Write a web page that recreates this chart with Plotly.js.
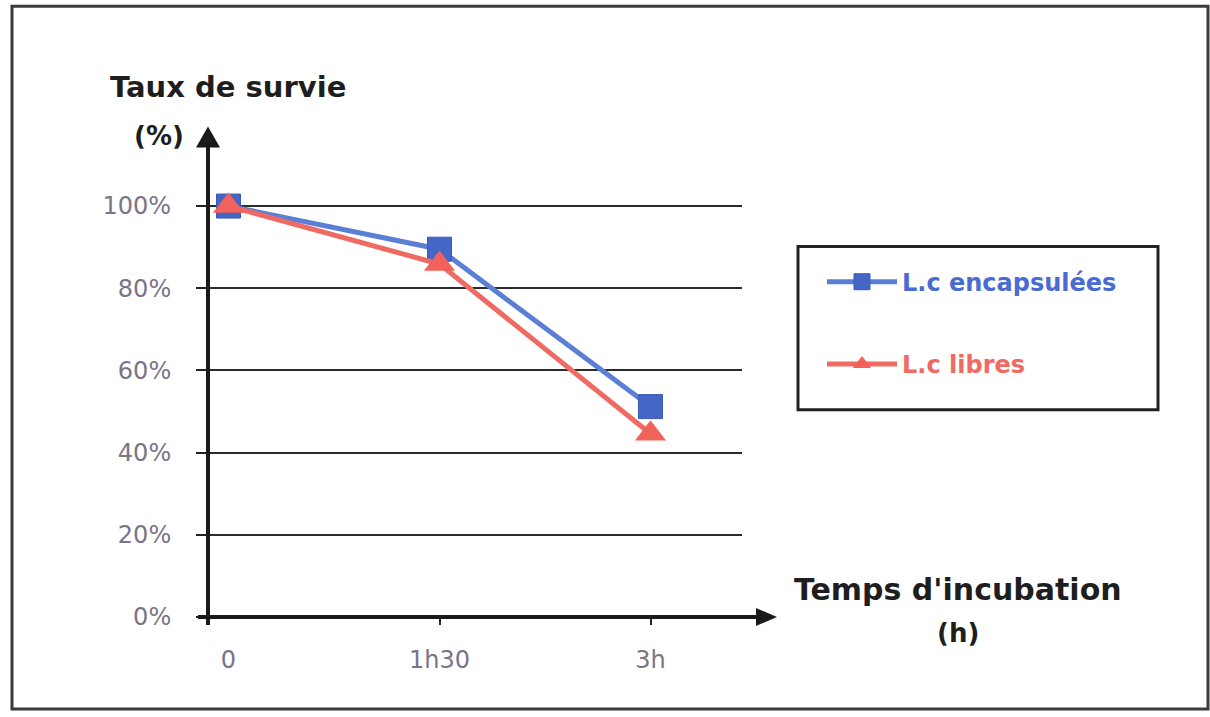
<!DOCTYPE html>
<html>
<head>
<meta charset="utf-8">
<script src="https://cdn.plot.ly/plotly-3.0.1.min.js"></script>
<style>html,body{margin:0;padding:0;background:#fff;}#chart{width:1210px;height:717px;}</style>
</head>
<body>
<div id="chart"></div>
<script>
// ---- Data ----
const times = ['0', '1h30', '3h'];
const encapsulees = [100, 89.5, 51.2];   // L.c encapsulées (%)
const libres = [100, 85.9, 44.6];        // L.c libres (%)
const yTickVals = [0, 20, 40, 60, 80, 100];
const yTickText = ['0%', '20%', '40%', '60%', '80%', '100%'];
const seriesNames = ['L.c encapsulées', 'L.c libres'];

// ---- Layout helpers (pixel -> paper) ----
const W = 1210, H = 717;
const Y0PX = 617, Y100PX = 206.5, YMAX = 100.5;
const L = 208, R = 742, B = Y0PX;
const T = B - (B - Y100PX) * YMAX / 100;
const px = v => (v - L) / (R - L);
const py = v => (B - v) / (B - T);

const xIdx = times.map((t, i) => i);

const traces = [
  {
    x: xIdx, y: encapsulees, name: seriesNames[0], type: 'scatter', mode: 'lines+markers',
    legendgroup: 'a',
    line: {color: '#5c7fd6', width: 5},
    marker: {symbol: 'square', size: 24, color: '#4466c4', line: {color: '#3a5ab5', width: 1}},
    cliponaxis: false
  },
  {
    x: xIdx, y: libres, name: seriesNames[1], type: 'scatter', mode: 'lines+markers',
    legendgroup: 'b',
    line: {color: '#ee6a62', width: 5},
    marker: {symbol: 'triangle-up', size: 27, color: '#f0625a', line: {width: 0}},
    cliponaxis: false
  },
  {
    x: [], y: [], xaxis: 'x2', yaxis: 'y', showlegend: false, type: 'scatter', hoverinfo: 'skip'
  }
];

const titleFont = {family: 'DejaVu Sans', size: 29, color: '#1e1e1e', weight: 'bold'};

const layout = {
  width: W, height: H,
  margin: {l: L, r: W - R, t: T, b: H - B, pad: 0},
  paper_bgcolor: '#ffffff', plot_bgcolor: '#ffffff',
  showlegend: true,
  legend: {
    x: px(822), y: py(260), xanchor: 'left', yanchor: 'top',
    bgcolor: 'rgba(0,0,0,0)', borderwidth: 0,
    font: {family: 'DejaVu Sans', size: 24, weight: 'bold', color: '#4a6cd0'},
    traceorder: 'grouped', tracegroupgap: 48, itemwidth: 70
  },
  xaxis: {
    range: [(L - 228.5) / 211, (R - 228.5) / 211],
    tickvals: xIdx, ticktext: times,
    ticks: '', showgrid: false, zeroline: false, showline: false,
    tickfont: {family: 'DejaVu Sans', size: 24, color: '#7a7488'},
    ticklabelstandoff: 26, fixedrange: true
  },
  xaxis2: {
    overlaying: 'x', matches: 'x', side: 'bottom',
    tickvals: xIdx.slice(1), showticklabels: false,
    ticks: 'outside', ticklen: 7, tickwidth: 2, tickcolor: '#222',
    showgrid: false, zeroline: false, showline: false
  },
  yaxis: {
    range: [0, YMAX],
    tickvals: yTickVals, ticktext: yTickText,
    ticks: 'outside', ticklen: 11, tickwidth: 2, tickcolor: '#222',
    showgrid: true, gridcolor: '#2b2b2b', gridwidth: 2,
    zeroline: false, showline: false,
    tickfont: {family: 'DejaVu Sans', size: 24, color: '#7a7488'},
    ticklabelstandoff: 20, fixedrange: true
  },
  shapes: [
    // outer frame
    {type: 'rect', xref: 'paper', yref: 'paper', x0: px(12), x1: px(1208), y0: py(709), y1: py(7),
     line: {color: '#3a3a3a', width: 3}, layer: 'below'},
    // legend box
    {type: 'rect', xref: 'paper', yref: 'paper', x0: px(798), x1: px(1158), y0: py(410), y1: py(247),
     line: {color: '#222', width: 3}},
    // y axis line + arrow
    {type: 'line', xref: 'paper', yref: 'paper', x0: px(208), x1: px(208), y0: py(625), y1: py(140),
     line: {color: '#1a1a1a', width: 4}},
    {type: 'path', xref: 'paper', yref: 'paper',
     path: `M ${px(208)} ${py(127)} L ${px(196)} ${py(148)} L ${px(220)} ${py(148)} Z`,
     fillcolor: '#1a1a1a', line: {width: 0}},
    // x axis line + arrow
    {type: 'line', xref: 'paper', yref: 'paper', x0: px(198), x1: px(762), y0: py(617), y1: py(617),
     line: {color: '#1a1a1a', width: 4}},
    {type: 'path', xref: 'paper', yref: 'paper',
     path: `M ${px(777)} ${py(617)} L ${px(756)} ${py(608)} L ${px(756)} ${py(626)} Z`,
     fillcolor: '#1a1a1a', line: {width: 0}}
  ],
  annotations: [
    {text: 'Taux de survie', xref: 'paper', yref: 'paper', x: px(228), y: py(88),
     xanchor: 'center', yanchor: 'middle', showarrow: false, font: titleFont},
    {text: '(%)', xref: 'paper', yref: 'paper', x: px(159), y: py(137),
     xanchor: 'center', yanchor: 'middle', showarrow: false, font: Object.assign({}, titleFont, {size: 26})},
    {text: "Temps d'incubation", xref: 'paper', yref: 'paper', x: px(958), y: py(590),
     xanchor: 'center', yanchor: 'middle', showarrow: false, font: Object.assign({}, titleFont, {size: 30})},
    {text: '(h)', xref: 'paper', yref: 'paper', x: px(958), y: py(633),
     xanchor: 'center', yanchor: 'middle', showarrow: false, font: Object.assign({}, titleFont, {size: 26})}
  ]
};

Plotly.newPlot('chart', traces, layout, {displayModeBar: false, staticPlot: true}).then(() => {
  // colour each legend label like its series
  const colors = ['#4a6cd0', '#ee6a62'];
  document.querySelectorAll('.legend .traces .legendtext').forEach((el, i) => {
    el.style.fill = colors[i % colors.length];
  });
});
</script>
</body>
</html>
